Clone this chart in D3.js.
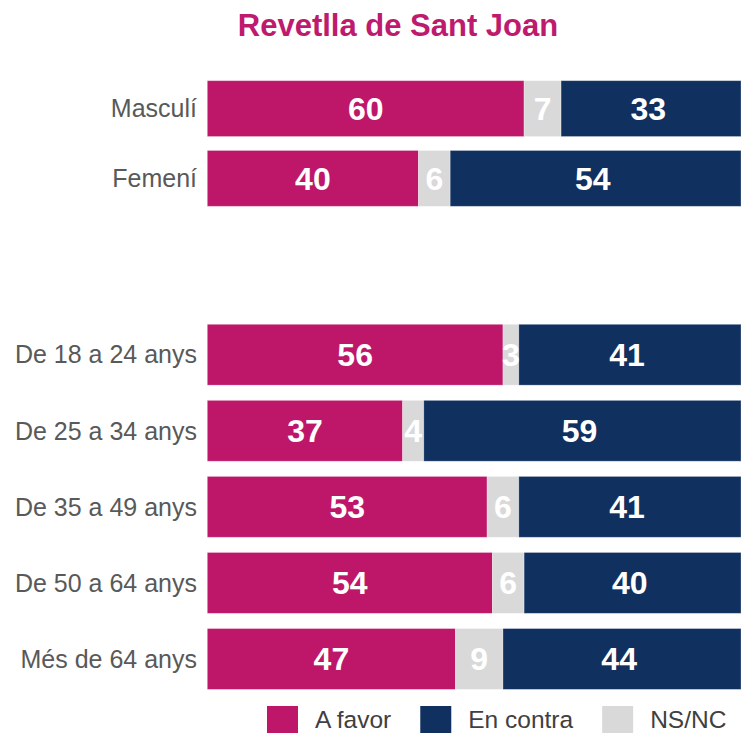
<!DOCTYPE html>
<html>
<head>
<meta charset="utf-8">
<script src="https://cdn.jsdelivr.net/npm/d3@7/dist/d3.min.js"></script>
<style>
  html, body { margin: 0; padding: 0; background: #fff; }
  svg { display: block; font-family: "Liberation Sans", Arial, sans-serif; }
</style>
</head>
<body>
<div id="chart"></div>
<script>
// Survey result: "Revetlla de Sant Joan", split by sex and by age group (percent)
const sexGroups = ["Masculí", "Femení"];
const ageGroups = ["De 18 a 24 anys", "De 25 a 34 anys", "De 35 a 49 anys", "De 50 a 64 anys", "Més de 64 anys"];

const aFavor   = [60, 40, 56, 37, 53, 54, 47];
const nsnc     = [ 7,  6,  3,  4,  6,  6,  9];
const enContra = [33, 54, 41, 59, 41, 40, 44];

const seriesNames  = ["A favor", "NS/NC", "En contra"];
const seriesColors = ["#BE176A", "#D9D9D9", "#10305F"];
const legendOrder  = ["A favor", "En contra", "NS/NC"];

const W = 741, H = 733;
const svg = d3.select("#chart").append("svg")
  .attr("width", W).attr("height", H);

const allGroups = sexGroups.concat(ageGroups);
const rows = allGroups.map((g, i) => ({
  group: g,
  values: [aFavor[i], nsnc[i], enContra[i]]
}));

const x = d3.scaleLinear().domain([0, 100]).range([207.3, 735.3]);

// two panels stacked vertically, each with its own band scale
const ySex = d3.scaleBand().domain(sexGroups).range([73.7, 213.3])
  .paddingInner(0.2).paddingOuter(0.1);
const yAge = d3.scaleBand().domain(ageGroups).range([316.7, 697])
  .paddingInner(0.2).paddingOuter(0.1);
const yOf = g => sexGroups.includes(g) ? ySex : yAge;

const color = d3.scaleOrdinal().domain(seriesNames).range(seriesColors);

// Title
svg.append("text")
  .attr("x", 398).attr("y", 36)
  .attr("text-anchor", "middle")
  .attr("font-size", 31).attr("font-weight", "bold")
  .attr("fill", "#BE1A6E")
  .text("Revetlla de Sant Joan");

// Category labels
svg.append("g").selectAll("text")
  .data(rows).join("text")
  .attr("x", 197)
  .attr("y", d => yOf(d.group)(d.group) + yOf(d.group).bandwidth() / 2)
  .attr("dy", "0.35em")
  .attr("text-anchor", "end")
  .attr("font-size", 25)
  .attr("fill", "#595959")
  .text(d => d.group);

// Stacked segments
const segs = [];
rows.forEach(r => {
  let acc = 0;
  r.values.forEach((v, k) => {
    segs.push({ group: r.group, series: seriesNames[k], value: v, x0: acc, x1: acc + v, last: k === r.values.length - 1 });
    acc += v;
  });
});

const bars = svg.append("g");
bars.selectAll("rect")
  .data(segs).join("rect")
  .attr("x", d => x(d.x0))
  .attr("y", d => yOf(d.group)(d.group))
  .attr("width", d => (d.last ? W : x(d.x1)) - x(d.x0))
  .attr("height", d => yOf(d.group).bandwidth())
  .attr("fill", d => color(d.series))
  .attr("stroke", "#fff").attr("stroke-opacity", 0.35).attr("stroke-width", 0.8);

bars.selectAll("text")
  .data(segs).join("text")
  .attr("x", d => (x(d.x0) + x(d.x1)) / 2)
  .attr("y", d => yOf(d.group)(d.group) + yOf(d.group).bandwidth() / 2)
  .attr("dy", "0.36em")
  .attr("text-anchor", "middle")
  .attr("font-size", 32).attr("font-weight", "bold")
  .attr("fill", "#fff")
  .text(d => d.value);

// Legend
const legend = svg.append("g");
let lx = 267;
legendOrder.forEach(name => {
  const item = legend.append("g");
  item.append("rect")
    .attr("x", lx).attr("y", 706)
    .attr("width", 31).attr("height", 31)
    .attr("fill", color(name));
  const t = item.append("text")
    .attr("x", lx + 48).attr("y", 728)
    .attr("font-size", 24.5)
    .attr("fill", "#404040")
    .text(name);
  lx += 48 + t.node().getComputedTextLength() + 29;
});
</script>
</body>
</html>
